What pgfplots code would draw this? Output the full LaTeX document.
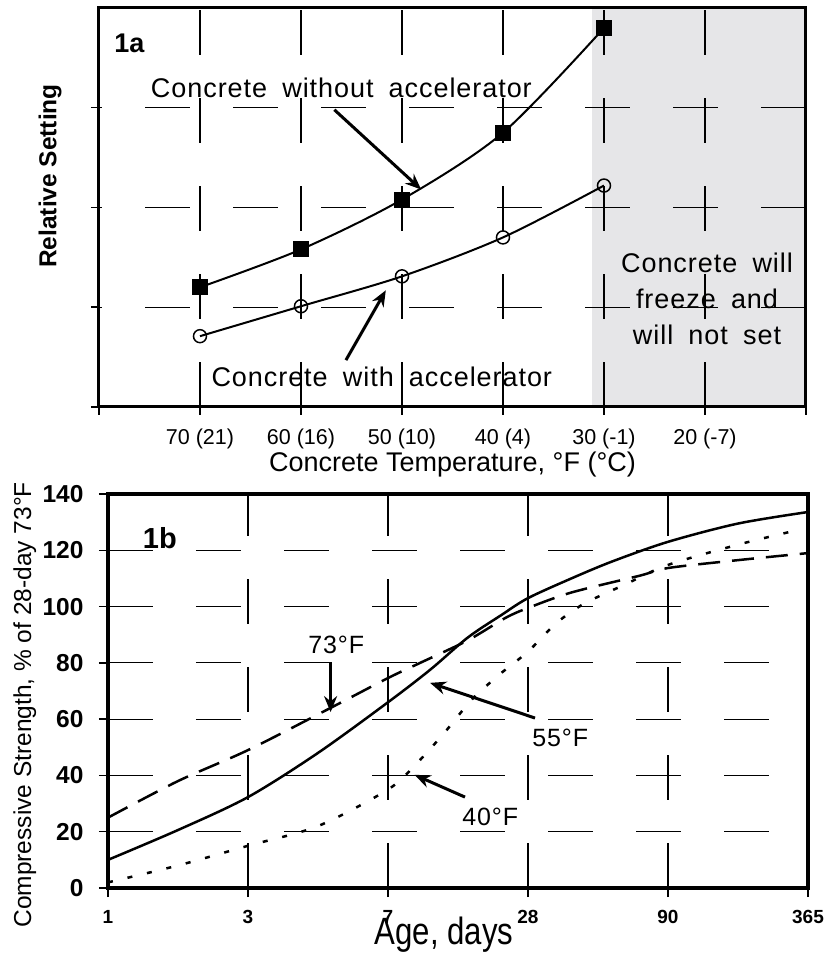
\documentclass[border=0pt]{standalone}
\usepackage{fontspec}
\setmainfont{Liberation Sans}
\newfontfamily\narrowfont[FakeStretch=0.82]{Liberation Sans}
\newfontfamily\spacedfont[LetterSpace=3.5, WordSpace=1.8]{Liberation Sans}
\usepackage{pgfplots}
\pgfplotsset{compat=1.18}
\usetikzlibrary{arrows.meta}
\definecolor{freezegray}{RGB}{230,230,232}

\pgfplotsset{
  figbase/.style={
    scale only axis,
    axis on top,
    grid=major,
    major grid style={black, line width=1.2pt, dash pattern=on 45pt off 43pt},
    axis line style={line width=3pt},
    tick style={black, line width=1.5pt},
    major tick length=8pt,
    tick align=outside,
    xtick pos=bottom,
    ytick pos=left,
    /pgf/number format/assume math mode=true,
  },
}
\tikzset{callout/.style={black, line width=3pt, -{Stealth[length=16pt,width=13pt]}}}

\begin{document}
\begin{tikzpicture}
\path[use as bounding box] (0,0) rectangle (826pt,954pt);

% ---- 1a: relative setting ----
\begin{axis}[figbase,
  at={(99pt,547pt)}, anchor=south west,
  width=707pt, height=399pt,
  xmin=10, xmax=80, x dir=reverse,
  ymin=0, ymax=4,
  xtick={10,20,...,80},
  xticklabels={,20 (-7),30 (-1),40 (4),50 (10),60 (16),70 (21),},
  xticklabel style={font=\fontsize{21.5}{24}\selectfont, yshift=-10pt},
  ytick={0,1,2,3},
  yticklabels={,,,},
  xlabel={Concrete Temperature, °F (°C)},
  xlabel style={font=\fontsize{27}{30}\selectfont, at={(axis description cs:0.5,-0.145)}, anchor=center},
  ylabel={Relative Setting},
  ylabel style={font=\bfseries\fontsize{24.5}{27}\selectfont, at={(axis description cs:-0.069,0.579)}, anchor=center},
]
\addplot[fill=freezegray, draw=none] coordinates {(31.2,0) (10,0) (10,4) (31.2,4)} -- cycle;

% without accelerator
\addplot[black, line width=2pt, smooth, mark=square*, mark size=7pt,
  mark options={solid}] coordinates {
  (70,1.20) (60,1.58) (50,2.08) (40,2.75) (30,3.80)
};
% with accelerator
\addplot[black, line width=2pt, smooth, mark=o, mark size=6.5pt,
  mark options={fill=white, line width=1.5pt}] coordinates {
  (70,0.71) (60,1.01) (50,1.31) (40,1.70) (30,2.22)
};

\node[font=\bfseries\fontsize{27}{29}\selectfont] at (axis cs:77.0,3.65) {1a};
\node[font=\spacedfont\fontsize{27}{30}\selectfont] at (axis cs:56.0,3.20) {Concrete without accelerator};
\draw[callout] (axis cs:56.7,2.98) -- (axis cs:48.1,2.18);
\node[font=\spacedfont\fontsize{27}{30}\selectfont] at (axis cs:52.0,0.30) {Concrete with accelerator};
\draw[callout] (axis cs:55.55,0.47) -- (axis cs:51.6,1.17);
\node[font=\spacedfont\fontsize{27}{36}\selectfont, align=center, inner sep=0pt] at (axis cs:19.8,1.08)
  {Concrete will\\ freeze and\\ will not set};
\end{axis}

% ---- 1b: compressive strength ----
\begin{axis}[figbase,
  at={(108pt,66pt)}, anchor=south west,
  width=700pt, height=394pt,
  xmin=0, xmax=5, ymin=0, ymax=140,
  xtick={0,1,2,3,4,5},
  xticklabels={1,3,7,28,90,365},
  xticklabel style={font=\bfseries\fontsize{19}{22}\selectfont, yshift=-10pt},
  ytick={0,20,...,140},
  yticklabel style={font=\bfseries\fontsize{24.5}{27}\selectfont, xshift=-12pt},
  major tick length=9pt,
  axis line style={line width=3.5pt},
  xlabel={Age, days},
  xlabel style={font=\narrowfont\fontsize{38}{40}\selectfont, at={(axis description cs:0.48,-0.119)}, anchor=center},
  ylabel={Compressive Strength, \% of 28-day 73°F},
  ylabel style={font=\fontsize{24.5}{27}\selectfont, at={(axis description cs:-0.119,0.465)}, anchor=center},
]
% 55 F
\addplot[black, line width=2.5pt, smooth] coordinates {
  (0,10) (0.5,20.6) (1,32.3) (1.5,48) (2,66) (2.3,77.5) (2.57,89) (2.81,97)
  (3,103) (3.31,110) (3.6,116) (4,123) (4.5,129.5) (5,133.6)
};
% 73 F
\addplot[black, line width=2.5pt, smooth, dash pattern=on 22pt off 12pt] coordinates {
  (0,25) (0.5,38) (1,49) (1.59,64) (2,74.6) (2.23,80) (2.57,88) (2.84,96)
  (3,99.5) (3.31,105) (3.8,111) (4,113.7) (4.5,116.5) (5,119)
};
% 40 F
\addplot[black, line width=2.5pt, smooth, dash pattern=on 5pt off 15pt] coordinates {
  (0,2) (0.5,8) (1,15) (1.5,22) (2,35) (2.2,44) (2.4,55) (2.6,67)
  (2.8,76) (3,84) (3.2,94) (3.4,101) (3.7,108) (4,114.8) (4.5,122) (4.91,127)
};

\node[font=\bfseries\fontsize{29}{31}\selectfont] at (axis cs:0.37,124.4) {1b};
\node[font=\spacedfont\fontsize{25}{28}\selectfont] at (axis cs:1.63,86.4) {73°F};
\draw[callout] (axis cs:1.59,80.3) -- (axis cs:1.59,62.5);
\node[font=\spacedfont\fontsize{25}{28}\selectfont] at (axis cs:3.23,53.3) {55°F};
\draw[callout] (axis cs:3.05,60.4) -- (axis cs:2.3,72.9);
\node[font=\spacedfont\fontsize{25}{28}\selectfont] at (axis cs:2.73,25.2) {40°F};
\draw[callout] (axis cs:2.55,32.3) -- (axis cs:2.19,40.2);
\end{axis}
\end{tikzpicture}
\end{document}
